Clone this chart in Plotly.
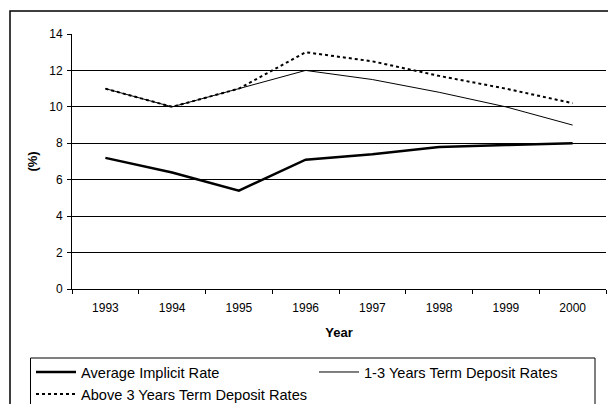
import plotly.graph_objects as go

years = ["1993", "1994", "1995", "1996", "1997", "1998", "1999", "2000"]
avg_implicit = [7.2, 6.4, 5.4, 7.1, 7.4, 7.8, 7.9, 8.0]
term_1_3 = [11.0, 10.0, 11.0, 12.0, 11.5, 10.8, 10.0, 9.0]
term_above_3 = [11.0, 10.0, 11.0, 13.0, 12.5, 11.7, 11.0, 10.2]

W, H = 608, 404
# reference pixel positions of the plot area
RL, RR, RT, RB = 72, 606, 34, 289
L, T = RL, RT
R = W - RR
B = H - RB
pw, ph = W - L - R, H - T - B

def px_x(px):
    return (px - L) / pw

def px_y(py):
    return (H - B - py) / ph

fig = go.Figure()
fig.add_trace(go.Scatter(x=years, y=avg_implicit, mode="lines", name="Average Implicit Rate",
                         line=dict(color="black", width=2.5)))
fig.add_trace(go.Scatter(x=years, y=term_1_3, mode="lines", name="1-3 Years Term Deposit Rates",
                         line=dict(color="black", width=1)))
fig.add_trace(go.Scatter(x=years, y=term_above_3, mode="lines", name="Above 3 Years Term Deposit Rates",
                         line=dict(color="black", width=2, dash="dot")))

fig.update_layout(
    width=W, height=H,
    margin=dict(l=L, r=R, t=T, b=B, autoexpand=False),
    paper_bgcolor="white", plot_bgcolor="white",
    font=dict(family="Liberation Sans, Arial, sans-serif", color="black", size=12),
    showlegend=True,
    legend=dict(
        orientation="h", x=px_x(31), y=px_y(356), xanchor="left", yanchor="top",
        borderwidth=0, bgcolor="rgba(0,0,0,0)",
        font=dict(size=14.6), entrywidth=228, entrywidthmode="pixels",
        tracegroupgap=0, itemwidth=40, maxheight=1,
    ),
    xaxis=dict(
        type="category", tickson="boundaries", ticks="outside", ticklen=4,
        tickcolor="black", showline=True, linecolor="black", linewidth=1,
        showgrid=False, tickfont=dict(size=12), ticklabelstandoff=8,
        title=dict(text="<b>Year</b>", font=dict(size=13), standoff=13),
        range=[-0.5, 7.5], fixedrange=True,
    ),
    yaxis=dict(
        range=[0, 14], dtick=2, ticks="outside", ticklen=4, tickcolor="black",
        showline=True, linecolor="black", linewidth=1,
        showgrid=True, gridcolor="black", gridwidth=1, zeroline=False,
        tickfont=dict(size=12), ticklabelstandoff=2,
        title=dict(text="<b>(%)</b>", font=dict(size=13), standoff=8),
    ),
    shapes=[
        dict(type="rect", xref="paper", yref="paper",
             x0=px_x(10), x1=px_x(660), y0=px_y(460), y1=px_y(11),
             line=dict(color="black", width=1.5), layer="below"),
        dict(type="line", xref="paper", yref="paper",
             x0=px_x(30.5), x1=px_x(595), y0=px_y(358), y1=px_y(358),
             line=dict(color="black", width=1), layer="above"),
        dict(type="line", xref="paper", yref="paper",
             x0=px_x(30.5), x1=px_x(30.5), y0=px_y(358), y1=px_y(460),
             line=dict(color="black", width=1), layer="above"),
        dict(type="line", xref="paper", yref="paper",
             x0=px_x(595), x1=px_x(595), y0=px_y(358), y1=px_y(460),
             line=dict(color="black", width=1), layer="above"),
    ],
)

fig.write_html("out.html", config={"displayModeBar": False},
               post_script="document.body.style.margin='0';document.body.style.overflow='hidden';")
